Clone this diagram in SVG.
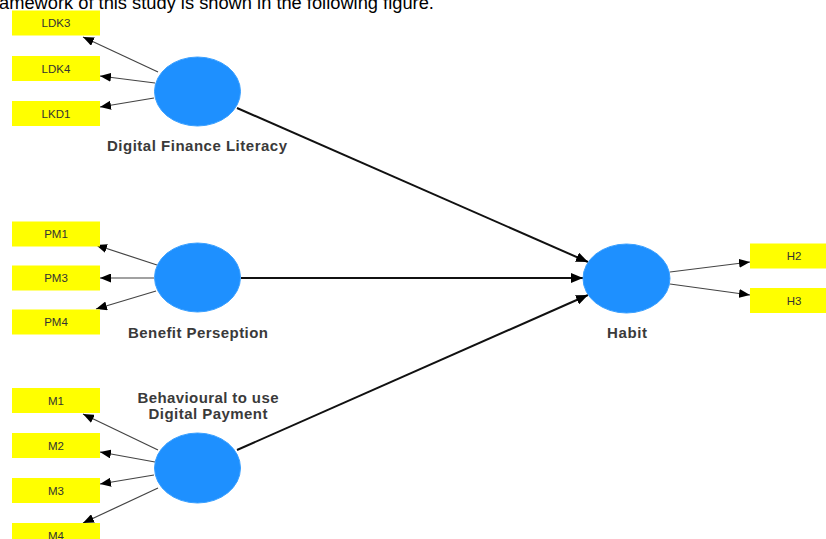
<svg xmlns="http://www.w3.org/2000/svg" width="826" height="539" viewBox="0 0 826 539">
  <style>
    .box { fill: #FFFF00; stroke: none; }
    .btxt { font-family: "Liberation Sans", Arial, sans-serif; font-size: 11.5px; fill: #333; text-anchor: middle; dominant-baseline: central; }
    .lv { fill: #1E90FF; stroke: #3aa0ff; stroke-width: 1; }
    .lbl { font-family: "Liberation Sans", Arial, sans-serif; font-size: 15px; font-weight: bold; fill: #3a3a3a; text-anchor: middle; }
    .ind { stroke: #444; stroke-width: 1.2; fill: none; marker-end: url(#ah); }
    .str { stroke: #111; stroke-width: 2; fill: none; marker-end: url(#ah2); }
    .cap { font-family: "Liberation Sans", Arial, sans-serif; font-size: 18.3px; fill: #000; }
  </style>
  <defs>
    <marker id="ah" markerUnits="userSpaceOnUse" markerWidth="11" markerHeight="9" refX="11" refY="4.5" orient="auto">
      <path d="M0,0 L11,4.5 L0,9 z" fill="#000"/>
    </marker>
    <marker id="ah2" markerUnits="userSpaceOnUse" markerWidth="12" markerHeight="10" refX="12" refY="5" orient="auto">
      <path d="M0,0 L12,5 L0,10 z" fill="#000"/>
    </marker>
  </defs>
  <rect width="826" height="539" fill="#fff"/>
  <text class="cap" x="-1" y="9">amework of this study is shown in the following figure.</text>

  <g id="connectors">
    <line class="ind" x1="158" y1="72" x2="83" y2="37"/>
    <line class="ind" x1="155" y1="83" x2="100" y2="76"/>
    <line class="ind" x1="154" y1="98" x2="100" y2="107"/>
    <line class="ind" x1="157" y1="265" x2="96" y2="245"/>
    <line class="ind" x1="154" y1="278" x2="100" y2="278"/>
    <line class="ind" x1="156" y1="291" x2="96" y2="309"/>
    <line class="ind" x1="158" y1="450" x2="83" y2="414"/>
    <line class="ind" x1="155" y1="462" x2="100" y2="452"/>
    <line class="ind" x1="154" y1="475" x2="100" y2="484"/>
    <line class="ind" x1="158" y1="488" x2="83" y2="523"/>
    <line class="ind" x1="670" y1="272" x2="750" y2="262"/>
    <line class="ind" x1="670" y1="284" x2="750" y2="295"/>
    <line class="str" x1="237" y1="108" x2="588" y2="262"/>
    <line class="str" x1="241" y1="278" x2="583" y2="278"/>
    <line class="str" x1="237" y1="450" x2="588" y2="295"/>
  </g>

  <g id="LDK3"><rect class="box" x="12" y="10.5" width="88" height="25"/><text class="btxt" x="56" y="23">LDK3</text></g>
  <g id="LDK4"><rect class="box" x="12" y="56" width="88" height="25"/><text class="btxt" x="56" y="68.5">LDK4</text></g>
  <g id="LKD1"><rect class="box" x="12" y="101" width="88" height="25"/><text class="btxt" x="56" y="113.5">LKD1</text></g>

  <g id="PM1"><rect class="box" x="12" y="221.5" width="88" height="25"/><text class="btxt" x="56" y="234">PM1</text></g>
  <g id="PM3"><rect class="box" x="12" y="265.5" width="88" height="25"/><text class="btxt" x="56" y="278">PM3</text></g>
  <g id="PM4"><rect class="box" x="12" y="309.5" width="88" height="25"/><text class="btxt" x="56" y="322">PM4</text></g>

  <g id="M1"><rect class="box" x="12" y="388" width="88" height="25"/><text class="btxt" x="56" y="400.5">M1</text></g>
  <g id="M2"><rect class="box" x="12" y="433" width="88" height="25"/><text class="btxt" x="56" y="445.5">M2</text></g>
  <g id="M3"><rect class="box" x="12" y="478" width="88" height="25"/><text class="btxt" x="56" y="490.5">M3</text></g>
  <g id="M4"><rect class="box" x="12" y="523" width="88" height="25"/><text class="btxt" x="56" y="535.5">M4</text></g>

  <g id="H2"><rect class="box" x="750" y="243.5" width="88" height="25"/><text class="btxt" x="794" y="256">H2</text></g>
  <g id="H3"><rect class="box" x="750" y="288" width="88" height="25"/><text class="btxt" x="794" y="300.5">H3</text></g>

  <g id="DigitalFinanceLiteracy">
    <ellipse class="lv" cx="197.5" cy="91.5" rx="43" ry="34.5"/>
    <text class="lbl" x="197" y="151" textLength="180" lengthAdjust="spacing">Digital Finance Literacy</text>
  </g>
  <g id="BenefitPerseption">
    <ellipse class="lv" cx="197.5" cy="277.5" rx="43" ry="34.5"/>
    <text class="lbl" x="198" y="338" textLength="140" lengthAdjust="spacing">Benefit Perseption</text>
  </g>
  <g id="BehaviouralDigitalPayment">
    <ellipse class="lv" cx="197.5" cy="468" rx="43" ry="35"/>
    <text class="lbl" x="208" y="403" textLength="141" lengthAdjust="spacing">Behavioural to use</text>
    <text class="lbl" x="208" y="419" textLength="119" lengthAdjust="spacing">Digital Payment</text>
  </g>
  <g id="Habit">
    <ellipse class="lv" cx="626.5" cy="278.5" rx="43.5" ry="34.5"/>
    <text class="lbl" x="627" y="338" textLength="40" lengthAdjust="spacing">Habit</text>
  </g>
</svg>
